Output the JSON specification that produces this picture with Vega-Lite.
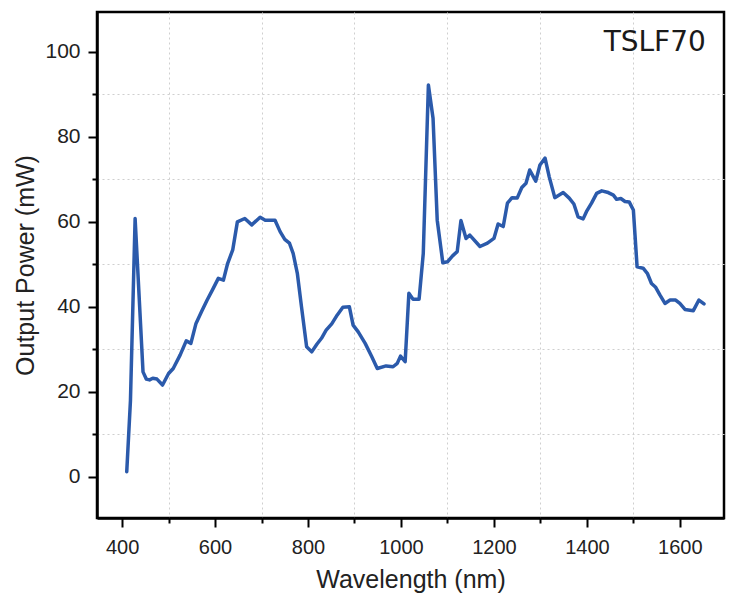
{
  "$schema": "https://vega.github.io/schema/vega-lite/v6.json",
  "width": 627,
  "height": 506,
  "autosize": {"type": "none"},
  "padding": {"left": 97, "top": 12, "right": 11, "bottom": 81},
  "background": "white",
  "config": {
    "view": {"stroke": "#000000", "strokeWidth": 2.5},
    "font": "Liberation Sans"
  },
  "datasets": {
    "spectrum": [
      {"wavelength": 410, "power": 1.2},
      {"wavelength": 418, "power": 18},
      {"wavelength": 428, "power": 60.8},
      {"wavelength": 445, "power": 24.7},
      {"wavelength": 452, "power": 23.0},
      {"wavelength": 459, "power": 22.8},
      {"wavelength": 466, "power": 23.2},
      {"wavelength": 475, "power": 23.0},
      {"wavelength": 487, "power": 21.6},
      {"wavelength": 500, "power": 24.3},
      {"wavelength": 510, "power": 25.5},
      {"wavelength": 525, "power": 28.7},
      {"wavelength": 538, "power": 32.0},
      {"wavelength": 548, "power": 31.4},
      {"wavelength": 559, "power": 36.1},
      {"wavelength": 571, "power": 38.9},
      {"wavelength": 583, "power": 41.6},
      {"wavelength": 595, "power": 44.1},
      {"wavelength": 607, "power": 46.7},
      {"wavelength": 618, "power": 46.3},
      {"wavelength": 627, "power": 50.2},
      {"wavelength": 638, "power": 53.4},
      {"wavelength": 648, "power": 60.0},
      {"wavelength": 664, "power": 60.8},
      {"wavelength": 679, "power": 59.3},
      {"wavelength": 697, "power": 61.1},
      {"wavelength": 708, "power": 60.4},
      {"wavelength": 729, "power": 60.4},
      {"wavelength": 740, "power": 57.7},
      {"wavelength": 750, "power": 55.9},
      {"wavelength": 760, "power": 55.0},
      {"wavelength": 768, "power": 52.6},
      {"wavelength": 777, "power": 47.9},
      {"wavelength": 786, "power": 40.0},
      {"wavelength": 797, "power": 30.6},
      {"wavelength": 808, "power": 29.4},
      {"wavelength": 819, "power": 31.2},
      {"wavelength": 829, "power": 32.6},
      {"wavelength": 839, "power": 34.5},
      {"wavelength": 851, "power": 36.0},
      {"wavelength": 863, "power": 38.1},
      {"wavelength": 875, "power": 39.9},
      {"wavelength": 889, "power": 40.0},
      {"wavelength": 897, "power": 35.7},
      {"wavelength": 908, "power": 34.1},
      {"wavelength": 923, "power": 31.4},
      {"wavelength": 937, "power": 28.3},
      {"wavelength": 949, "power": 25.5},
      {"wavelength": 968, "power": 26.1},
      {"wavelength": 983, "power": 25.9},
      {"wavelength": 992, "power": 26.7},
      {"wavelength": 999, "power": 28.4},
      {"wavelength": 1009, "power": 27.1},
      {"wavelength": 1017, "power": 43.2},
      {"wavelength": 1026, "power": 41.8},
      {"wavelength": 1039, "power": 41.8},
      {"wavelength": 1048, "power": 52.6},
      {"wavelength": 1059, "power": 92.2},
      {"wavelength": 1069, "power": 84.4},
      {"wavelength": 1078, "power": 60.4},
      {"wavelength": 1090, "power": 50.4},
      {"wavelength": 1100, "power": 50.6},
      {"wavelength": 1111, "power": 52.0},
      {"wavelength": 1121, "power": 53.0},
      {"wavelength": 1129, "power": 60.3},
      {"wavelength": 1140, "power": 56.1},
      {"wavelength": 1148, "power": 56.9},
      {"wavelength": 1170, "power": 54.2},
      {"wavelength": 1186, "power": 55.0},
      {"wavelength": 1200, "power": 56.1},
      {"wavelength": 1209, "power": 59.5},
      {"wavelength": 1220, "power": 58.9},
      {"wavelength": 1229, "power": 64.4},
      {"wavelength": 1239, "power": 65.7},
      {"wavelength": 1250, "power": 65.6},
      {"wavelength": 1260, "power": 68.1},
      {"wavelength": 1269, "power": 69.1},
      {"wavelength": 1277, "power": 72.2},
      {"wavelength": 1290, "power": 69.6},
      {"wavelength": 1299, "power": 73.4},
      {"wavelength": 1310, "power": 75.0},
      {"wavelength": 1319, "power": 70.6},
      {"wavelength": 1331, "power": 65.7},
      {"wavelength": 1349, "power": 66.9},
      {"wavelength": 1362, "power": 65.6},
      {"wavelength": 1372, "power": 64.2},
      {"wavelength": 1381, "power": 61.2},
      {"wavelength": 1392, "power": 60.7},
      {"wavelength": 1399, "power": 62.4},
      {"wavelength": 1410, "power": 64.4},
      {"wavelength": 1421, "power": 66.7},
      {"wavelength": 1432, "power": 67.3},
      {"wavelength": 1446, "power": 66.9},
      {"wavelength": 1457, "power": 66.3},
      {"wavelength": 1464, "power": 65.3},
      {"wavelength": 1473, "power": 65.5},
      {"wavelength": 1482, "power": 64.8},
      {"wavelength": 1491, "power": 64.7},
      {"wavelength": 1500, "power": 62.8},
      {"wavelength": 1508, "power": 49.4},
      {"wavelength": 1521, "power": 49.1},
      {"wavelength": 1530, "power": 47.9},
      {"wavelength": 1539, "power": 45.5},
      {"wavelength": 1548, "power": 44.6},
      {"wavelength": 1557, "power": 42.8},
      {"wavelength": 1568, "power": 40.8},
      {"wavelength": 1579, "power": 41.6},
      {"wavelength": 1591, "power": 41.6},
      {"wavelength": 1600, "power": 40.8},
      {"wavelength": 1611, "power": 39.4},
      {"wavelength": 1629, "power": 39.1},
      {"wavelength": 1641, "power": 41.6},
      {"wavelength": 1652, "power": 40.7}
    ],
    "labels": [
      {"x": 1546, "y": 102.2, "label": "TSLF70"}
    ]
  },
  "layer": [
    {
      "data": {"name": "spectrum"},
      "mark": {"type": "line", "color": "#2b5aab", "strokeWidth": 3.5, "strokeJoin": "round", "strokeCap": "round", "clip": true},
      "encoding": {
        "x": {
          "field": "wavelength",
          "type": "quantitative",
          "scale": {"domain": [346, 1695], "nice": false, "zero": false},
          "axis": {
            "title": "Wavelength (nm)",
            "values": [400, 500, 600, 700, 800, 900, 1000, 1100, 1200, 1300, 1400, 1500, 1600],
            "format": "d",
            "labelExpr": "datum.value % 200 == 0 ? datum.label : ''",
            "labelFontSize": 20,
            "labelColor": "#222222",
            "labelPadding": 10,
            "labelFlush": false,
            "tickSize": {"condition": {"test": "datum.value % 200 != 0", "value": 5}, "value": 9},
            "tickWidth": 2,
            "tickColor": "#000000",
            "domainColor": "#000000",
            "domainWidth": 2.5,
            "grid": true,
            "gridColor": "#cfcfcf",
            "gridDash": [2, 3],
            "gridWidth": 1,
            "gridOpacity": {"condition": {"test": "datum.value % 200 != 0", "value": 1}, "value": 0},
            "titleFontSize": 25,
            "titleFontWeight": "normal",
            "titleColor": "#222222",
            "titlePadding": 10
          }
        },
        "y": {
          "field": "power",
          "type": "quantitative",
          "scale": {"domain": [-9.7, 109.4], "nice": false, "zero": false},
          "axis": {
            "title": "Output Power (mW)",
            "values": [0, 10, 20, 30, 40, 50, 60, 70, 80, 90, 100],
            "format": "d",
            "labelExpr": "datum.value % 20 == 0 ? datum.label : ''",
            "labelFontSize": 21,
            "labelColor": "#222222",
            "labelPadding": 8,
            "labelFlush": false,
            "tickSize": {"condition": {"test": "datum.value % 20 != 0", "value": 5}, "value": 9},
            "tickWidth": 2,
            "tickColor": "#000000",
            "domainColor": "#000000",
            "domainWidth": 2.5,
            "grid": true,
            "gridColor": "#cfcfcf",
            "gridDash": [2, 3],
            "gridWidth": 1,
            "gridOpacity": {"condition": {"test": "datum.value % 20 != 0", "value": 1}, "value": 0},
            "titleFontSize": 25,
            "titleFontWeight": "normal",
            "titleColor": "#222222",
            "titlePadding": 6
          }
        }
      }
    },
    {
      "data": {"name": "labels"},
      "mark": {"type": "text", "font": "DejaVu Sans", "fontWeight": "normal", "fontSize": 28, "color": "#1a1a1a", "align": "center", "baseline": "middle"},
      "encoding": {
        "x": {"field": "x", "type": "quantitative"},
        "y": {"field": "y", "type": "quantitative"},
        "text": {"field": "label"}
      }
    }
  ]
}
